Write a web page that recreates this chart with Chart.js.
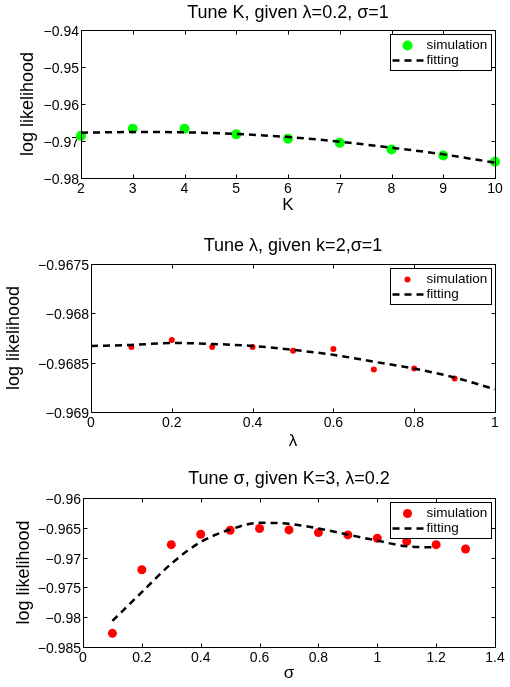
<!DOCTYPE html>
<html>
<head>
<meta charset="utf-8">
<script src="https://cdn.jsdelivr.net/npm/chart.js@4.4.0/dist/chart.umd.min.js"></script>
<style>
  body { margin: 0; background: #fff; }
  canvas { position: absolute; left: 0; }
</style>
</head>
<body>
<canvas id="chart-1" width="510" height="228" style="top:0px"></canvas>
<canvas id="chart-2" width="510" height="228" style="top:228px"></canvas>
<canvas id="chart-3" width="510" height="231" style="top:456px"></canvas>
<script>
// panel 1: tune K
var k_values = [2, 3, 4, 5, 6, 7, 8, 9, 10];
var k_sim = [-0.9686, -0.9667, -0.9667, -0.9682, -0.9694, -0.9705, -0.9723, -0.9739, -0.9756];
var k_fit = [-0.96775, -0.96757, -0.96766, -0.9681, -0.96892, -0.97018, -0.9718, -0.9736, -0.97586];
var k_xticks = [2, 3, 4, 5, 6, 7, 8, 9, 10];
var k_yticks = [-0.98, -0.97, -0.96, -0.95, -0.94];

// panel 2: tune lambda
var lam_sim_x = [0.1, 0.2, 0.3, 0.4, 0.5, 0.6, 0.7, 0.8, 0.9];
var lam_sim = [-0.96834, -0.96827, -0.96834, -0.96834, -0.96838, -0.96836, -0.96857, -0.96856, -0.96866];
var lam_fit_x = [0, 0.1, 0.2, 0.3, 0.4, 0.5, 0.6, 0.7, 0.8, 0.9, 1.0];
var lam_fit = [-0.96833, -0.96832, -0.9683, -0.96831, -0.96833, -0.96837, -0.96842, -0.96849, -0.96856, -0.96865, -0.96877];
var lam_xticks = [0, 0.2, 0.4, 0.6, 0.8, 1];
var lam_yticks = [-0.969, -0.9685, -0.968, -0.9675];

// panel 3: tune sigma
var sig_sim_x = [0.1, 0.2, 0.3, 0.4, 0.5, 0.6, 0.7, 0.8, 0.9, 1.0, 1.1, 1.2, 1.3];
var sig_sim = [-0.98271, -0.97203, -0.96782, -0.96607, -0.9654, -0.96511, -0.96534, -0.96579, -0.96618, -0.96675, -0.96726, -0.96782, -0.96855];
var sig_fit_x = [0.1, 0.2, 0.3, 0.4, 0.5, 0.6, 0.7, 0.8, 0.9, 1.0, 1.1, 1.2];
var sig_fit = [-0.98062, -0.97579, -0.97102, -0.96737, -0.96528, -0.96415, -0.96432, -0.96511, -0.96613, -0.96714, -0.9681, -0.96827];
var sig_xticks = [0, 0.2, 0.4, 0.6, 0.8, 1, 1.2, 1.4];
var sig_yticks = [-0.985, -0.98, -0.975, -0.97, -0.965, -0.96];

Chart.defaults.font.family = '"Liberation Sans", Arial, Helvetica, sans-serif';
Chart.defaults.color = '#000';

function fmt(v) {
  var s = String(Number(Number(v).toFixed(4)));
  return s.replace('-', '\u2212');
}

function pts(xs, ys) {
  return xs.map(function (x, i) { return { x: x, y: ys[i] }; });
}

// box round the plot with inward ticks on all 4 sides + matlab style legend
var framePlugin = {
  id: 'frame',
  afterDraw: function (chart) {
    var ctx = chart.ctx;
    var ca = chart.chartArea;
    var xs = chart.scales.x, ys = chart.scales.y;
    var L = Math.round(ca.left) + 0.5, R = Math.round(ca.right) + 0.5;
    var T = Math.round(ca.top) + 0.5, B = Math.round(ca.bottom) + 0.5;
    ctx.save();
    ctx.strokeStyle = '#000';
    ctx.lineWidth = 1;
    ctx.setLineDash([]);
    ctx.strokeRect(L, T, R - L, B - T);
    ctx.beginPath();
    xs.ticks.forEach(function (t) {
      var px = Math.round(xs.getPixelForValue(t.value)) + 0.5;
      ctx.moveTo(px, B); ctx.lineTo(px, B - 4);
      ctx.moveTo(px, T); ctx.lineTo(px, T + 4);
    });
    ys.ticks.forEach(function (t) {
      var py = Math.round(ys.getPixelForValue(t.value)) + 0.5;
      ctx.moveTo(L, py); ctx.lineTo(L + 4, py);
      ctx.moveTo(R, py); ctx.lineTo(R - 4, py);
    });
    ctx.stroke();

    // legend
    ctx.font = '13.5px "Liberation Sans", Arial, sans-serif';
    var sets = chart.data.datasets;
    var tw = 0;
    sets.forEach(function (d) { tw = Math.max(tw, ctx.measureText(d.label).width); });
    var w = Math.round(36 + tw + 4), h = 36;
    var bx = Math.round(ca.right - 4 - w) + 0.5, by = Math.round(ca.top + 4) + 0.5;
    ctx.fillStyle = '#fff';
    ctx.fillRect(bx, by, w, h);
    ctx.strokeRect(bx, by, w, h);
    ctx.textBaseline = 'middle';
    sets.forEach(function (d, i) {
      var cy = by + 11 + i * 15;
      if (d.showLine) {
        ctx.strokeStyle = d.borderColor;
        ctx.lineWidth = d.borderWidth;
        ctx.setLineDash(d.borderDash);
        ctx.beginPath();
        ctx.moveTo(bx + 2, cy); ctx.lineTo(bx + 33, cy);
        ctx.stroke();
        ctx.setLineDash([]);
      } else {
        ctx.fillStyle = d.backgroundColor;
        ctx.beginPath();
        ctx.arc(bx + 17, cy, d.pointRadius, 0, Math.PI * 2);
        ctx.fill();
      }
      ctx.fillStyle = '#000';
      ctx.fillText(d.label, bx + 36, cy);
    });
    ctx.restore();
  }
};

function makeChart(id, cfg) {
  var ctx = document.getElementById(id).getContext('2d');
  return new Chart(ctx, {
    type: 'scatter',
    data: {
      datasets: [
        {
          label: 'simulation',
          data: pts(cfg.simX, cfg.simY),
          backgroundColor: cfg.color,
          borderColor: cfg.color,
          borderWidth: 0,
          pointRadius: cfg.radius,
          order: 2,
          clip: false,
        },
        {
          label: 'fitting',
          data: pts(cfg.fitX, cfg.fitY),
          showLine: true,
          borderColor: '#000',
          borderWidth: 2.5,
          borderDash: [7, 5],
          pointRadius: 0,
          cubicInterpolationMode: 'monotone',
          order: 1,
          clip: false,
        },
      ],
    },
    options: {
      responsive: false,
      animation: false,
      events: [],
      layout: { padding: { left: 0, right: 15, top: 0, bottom: 0 } },
      plugins: {
        legend: { display: false },
        tooltip: { enabled: false },
        title: {
          display: true,
          fullSize: false,
          text: cfg.title,
          color: '#000',
          font: { size: 18, weight: 'normal' },
          padding: cfg.titlePad,
        },
      },
      scales: {
        x: {
          type: 'linear',
          min: cfg.xTicks[0],
          max: cfg.xTicks[cfg.xTicks.length - 1],
          afterBuildTicks: function (s) { s.ticks = cfg.xTicks.map(function (v) { return { value: v }; }); },
          afterFit: function (s) { s.height = cfg.xH; },
          grid: { display: false, drawTicks: false },
          border: { display: false },
          ticks: { color: '#000', font: { size: 14 }, padding: 3, maxRotation: 0, autoSkip: false, callback: fmt },
          title: { display: true, text: cfg.xLabel, color: '#000', font: { size: 17 }, padding: { top: 0, bottom: cfg.xTitlePad } },
        },
        y: {
          type: 'linear',
          min: cfg.yTicks[0],
          max: cfg.yTicks[cfg.yTicks.length - 1],
          afterBuildTicks: function (s) { s.ticks = cfg.yTicks.map(function (v) { return { value: v }; }); },
          afterFit: function (s) { s.width = cfg.yW; },
          grid: { display: false, drawTicks: false },
          border: { display: false },
          ticks: { color: '#000', font: { size: 14 }, padding: 2, labelOffset: 2, autoSkip: false, callback: fmt },
          title: { display: true, text: 'log likelihood', color: '#000', font: { size: 18 }, padding: { top: cfg.yTitlePad, bottom: 0 } },
        },
      },
    },
    plugins: [framePlugin],
  });
}

makeChart('chart-1', {
  title: 'Tune K, given \u03bb=0.2, \u03c3=1',
  titlePad: { top: 2, bottom: 6.5 },
  xLabel: 'K', xH: 50, xTitlePad: 12,
  yW: 81, yTitlePad: 17,
  simX: k_values, simY: k_sim, fitX: k_values, fitY: k_fit,
  xTicks: k_xticks, yTicks: k_yticks,
  color: '#00ff00', radius: 5,
});

makeChart('chart-2', {
  title: 'Tune \u03bb, given k=2,\u03c3=1',
  titlePad: { top: 7, bottom: 7.5 },
  xLabel: '\u03bb', xH: 44, xTitlePad: 4,
  yW: 91, yTitlePad: 3,
  simX: lam_sim_x, simY: lam_sim, fitX: lam_fit_x, fitY: lam_fit,
  xTicks: lam_xticks, yTicks: lam_yticks,
  color: '#ff0000', radius: 3,
});

makeChart('chart-3', {
  title: 'Tune \u03c3, given K=3, \u03bb=0.2',
  titlePad: { top: 12, bottom: 8.5 },
  xLabel: '\u03c3', xH: 40, xTitlePad: 3,
  yW: 83, yTitlePad: 13,
  simX: sig_sim_x, simY: sig_sim, fitX: sig_fit_x, fitY: sig_fit,
  xTicks: sig_xticks, yTicks: sig_yticks,
  color: '#ff0000', radius: 4.5,
});
</script>
</body>
</html>
